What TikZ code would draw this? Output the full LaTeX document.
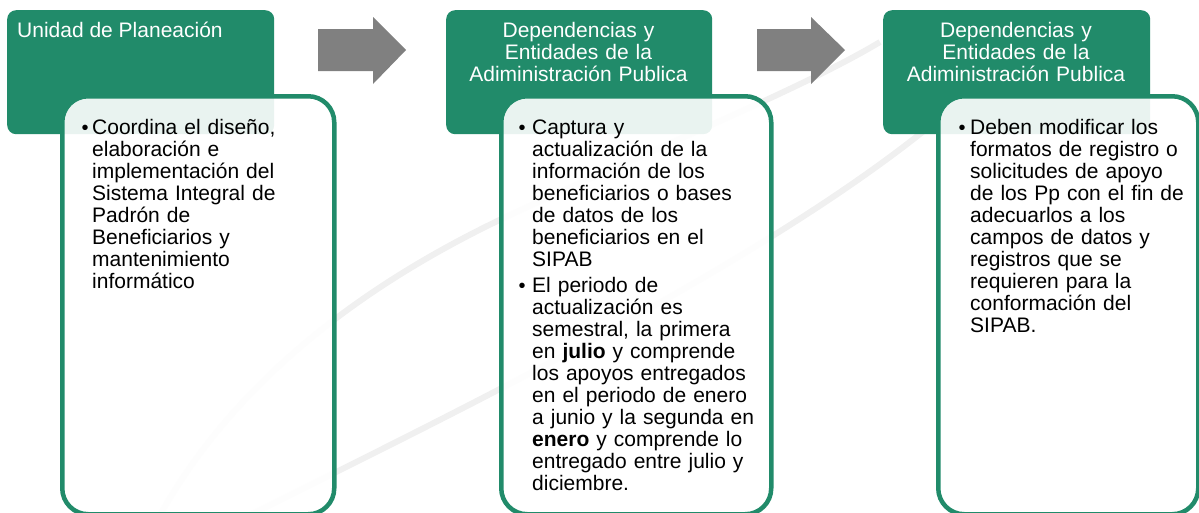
\documentclass[tikz,border=0pt]{standalone}
\usepackage{fontspec}
\setmainfont{Liberation Sans}
\definecolor{grn}{RGB}{33,139,106}
\definecolor{arrowgray}{RGB}{128,128,128}
\definecolor{wm}{RGB}{240,240,240}
\tikzset{
  head/.style={fill=grn, rounded corners=9pt, inner sep=0pt, anchor=north west},
  card/.style={draw=grn, line width=4.5pt, fill=white, fill opacity=0.9, rounded corners=26pt, inner sep=0pt, anchor=north west},
  htext/.style={text=white, font=\fontsize{21}{22.3}\selectfont, inner sep=0pt},
  btext/.style={text=black, font=\fontsize{21}{22}\selectfont, inner sep=0pt, align=left, text width=250pt, anchor=base west},
  bul/.style={text=black, font=\fontsize{20}{20}\selectfont, inner sep=0pt, anchor=base},
  flowarrow/.style={fill=arrowgray},
  mark line/.style={draw=wm, line width=6pt}
}
\begin{document}
\begin{tikzpicture}[x=1pt,y=-1pt]
\useasboundingbox (0,0) rectangle (1199,512);
\clip (0,0) rectangle (1199,512);
% faint background marks
\path[mark line] (160,515) .. controls (230,390) and (350,290) .. (510,215) .. controls (650,150) and (800,90) .. (880,42);
\path[mark line] (250,515) .. controls (450,415) and (750,270) .. (925,130);
% heading boxes
\node[head, minimum width=267pt, minimum height=124pt] (h1) at (7,10) {};
\node[head, minimum width=266pt, minimum height=124pt] (h2) at (446,10) {};
\node[head, minimum width=267pt, minimum height=124pt] (h3) at (883,10) {};
% arrows
\fill[flowarrow] (318,29) -- (373,29) -- (373,17) -- (406,50) -- (373,84) -- (373,71) -- (318,71) -- cycle;
\fill[flowarrow] (757,29) -- (811,29) -- (811,17) -- (845,50) -- (811,84) -- (811,71) -- (757,71) -- cycle;
% content cards
\node[card, minimum width=272pt, minimum height=418pt] (c1) at (60,94) {};
\node[card, minimum width=270pt, minimum height=418pt] (c2) at (499,94) {};
\node[card, minimum width=260pt, minimum height=418pt] (c3) at (936,94) {};
% heading texts
\node[htext, anchor=base west] (t1) at (17,37) {Unidad de Planeación};
\node[htext, text width=265pt, align=center, anchor=base] (t2) at (578.5,37) {Dependencias y\\Entidades de la\\Adiministración Publica};
\node[htext, text width=265pt, align=center, anchor=base] (t3) at (1016,37) {Dependencias y\\Entidades de la\\Adiministración Publica};
% bullets
\node[bul] (b1) at (85,134) {•};
\node[bul] (b2) at (522,134) {•};
\node[bul] (b3) at (522,292) {•};
\node[bul] (b4) at (962,134) {•};
% body texts
\node[btext] (x1) at (92,134) {Coordina el diseño,\\elaboración e\\implementación del\\Sistema Integral de\\Padrón de\\Beneficiarios y\\mantenimiento\\informático};
\node[btext] (x2) at (532,134) {Captura y\\actualización de la\\información de los\\beneficiarios o bases\\de datos de los\\beneficiarios en el\\SIPAB};
\node[btext] (x3) at (532,292) {El periodo de\\actualización es\\semestral, la primera\\en \textbf{julio} y comprende\\los apoyos entregados\\en el periodo de enero\\a junio y la segunda en\\\textbf{enero} y comprende lo\\entregado entre julio y\\diciembre.};
\node[btext] (x4) at (970,134) {Deben modificar los\\formatos de registro o\\solicitudes de apoyo\\de los Pp con el fin de\\adecuarlos a los\\campos de datos y\\registros que se\\requieren para la\\conformación del\\SIPAB.};
\end{tikzpicture}
\end{document}
